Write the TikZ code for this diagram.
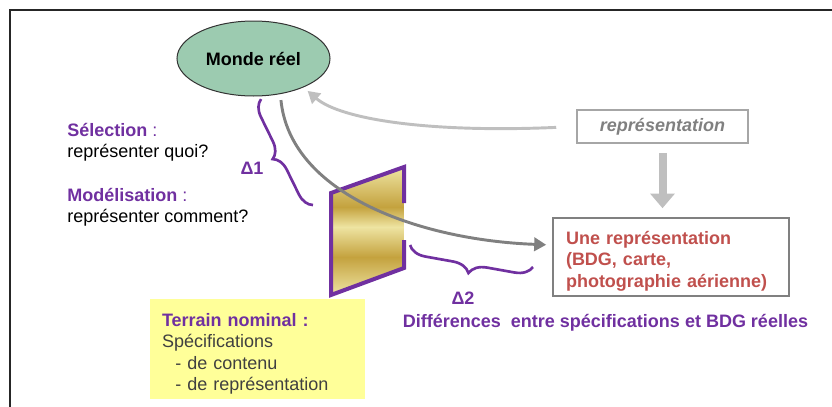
\documentclass[tikz,border=0pt]{standalone}
\usepackage{fontspec}
\setmainfont{Liberation Sans}
\usetikzlibrary{shapes.geometric, positioning}
\usetikzlibrary{arrows.meta, decorations.pathreplacing}
\definecolor{violetsig}{HTML}{7030A0}
\definecolor{rougerep}{HTML}{C0504D}
\definecolor{vertmonde}{HTML}{9CCBB0}
\definecolor{jaunenom}{HTML}{FFFF99}
\definecolor{orclair}{HTML}{EEE4A2}
\definecolor{orfonce}{HTML}{C4A23E}
\definecolor{grisfonce}{HTML}{808080}
\definecolor{grisclair}{HTML}{BFBFBF}
\pgfdeclareverticalshading{dore}{100bp}{color(0bp)=(orclair); color(25bp)=(orclair); color(39.8bp)=(orfonce); color(51.6bp)=(orclair); color(59.4bp)=(orfonce); color(75bp)=(orclair); color(100bp)=(orclair)}

\begin{document}
\begin{tikzpicture}[x=0.75pt,y=-0.75pt,
    every node/.style={font=\fontsize{13.5pt}{16pt}\selectfont},
    titre/.style={text=violetsig,font=\fontsize{13.5pt}{16pt}\selectfont\bfseries},
    accolade/.style={draw=violetsig,line width=2pt,decorate,decoration={brace,amplitude=#1}},
    fleche/.style={line width=2.2pt,-{Triangle[length=9pt,width=10pt]}}]
    \useasboundingbox (0,0) rectangle (832,407);
    % cadre
    \draw[line width=1.5pt,black!85] (9.5,407) -- (9.5,9.5) -- (832,9.5);

    \node[ellipse,draw=black!80,line width=0.75pt,fill=vertmonde,minimum width=114.75pt,minimum height=56.25pt,inner sep=0pt,font=\fontsize{13.5pt}{16pt}\selectfont\bfseries] (monde) at (253.5,58.5) {Monde réel};

    \node[anchor=west,align=left,inner sep=0pt] (selection) at (67,142) {\textcolor{violetsig}{\textbf{Sélection} :}\\représenter quoi?};
    \node[anchor=west,align=left,inner sep=0pt] (modelisation) at (67,207) {\textcolor{violetsig}{\textbf{Modélisation} :}\\représenter comment?};

    % le filtre
    \coordinate (T1) at (331,193);
    \coordinate (T2) at (404,167);
    \coordinate (T3) at (404,268);
    \coordinate (T4) at (331,295);
    \shade[shading=dore] (T1) -- (T2) -- (T3) -- (T4) -- cycle;
    \draw[violetsig,line width=3pt] (404,203) -- (T2) -- (T1) -- (T4) -- (T3) -- (404,240);

    \node[draw=black!50,line width=1.2pt,minimum width=177pt,minimum height=58.5pt,text width=157.5pt,inner xsep=9.75pt,align=left,text=rougerep,font=\fontsize{13.5pt}{16pt}\selectfont\bfseries] (une) at (671,257) {\rule{0pt}{16pt}Une représentation\\(BDG, carte,\\photographie aérienne)};
    \node[draw=black!35,line width=1.2pt,minimum width=128.25pt,minimum height=24.75pt,text=black!50,font=\fontsize{13.5pt}{16pt}\selectfont\bfseries\itshape] (repr) at (662.5,126.5) {représentation};
    \node[fill=jaunenom,minimum width=161.25pt,minimum height=73.5pt,text width=143.25pt,inner xsep=9pt,align=left,text=black!75] (nominal) at (257.5,349) {\rule{0pt}{17pt}\textcolor{violetsig}{\textbf{Terrain nominal :}}\\Spécifications\\\hspace*{10pt}- de contenu\\\hspace*{10pt}- de représentation};

    % les accolades
    \draw[accolade=12pt] (313,205) -- (261,99);
    \node[titre] (d1) at (252,168) {Δ1};
    \draw[accolade=13pt] (533,267) -- (410,245);
    \node[titre] (d2) at (463,298) {Δ2};
    \node[titre] (diff) at (605.5,323) {Différences\ \ entre spécifications et BDG réelles};

    % fleches
    \draw[fleche,grisfonce,shorten <=4.5pt,shorten >=4.5pt] (monde.-53) .. controls +(10,100) and +(-133,-5) .. ([yshift=9pt]une.west);
    \draw[fleche,grisclair,shorten <=15pt,shorten >=4pt] (repr.west) .. controls +(-147,6.5) and +(37,32) .. (monde.-30);
    \draw[grisclair,line width=6pt,-{Triangle[length=11pt,width=18pt]},shorten <=6.75pt,shorten >=6.75pt] (repr.south) -- (repr.south |- une.north);
\end{tikzpicture}
\end{document}
